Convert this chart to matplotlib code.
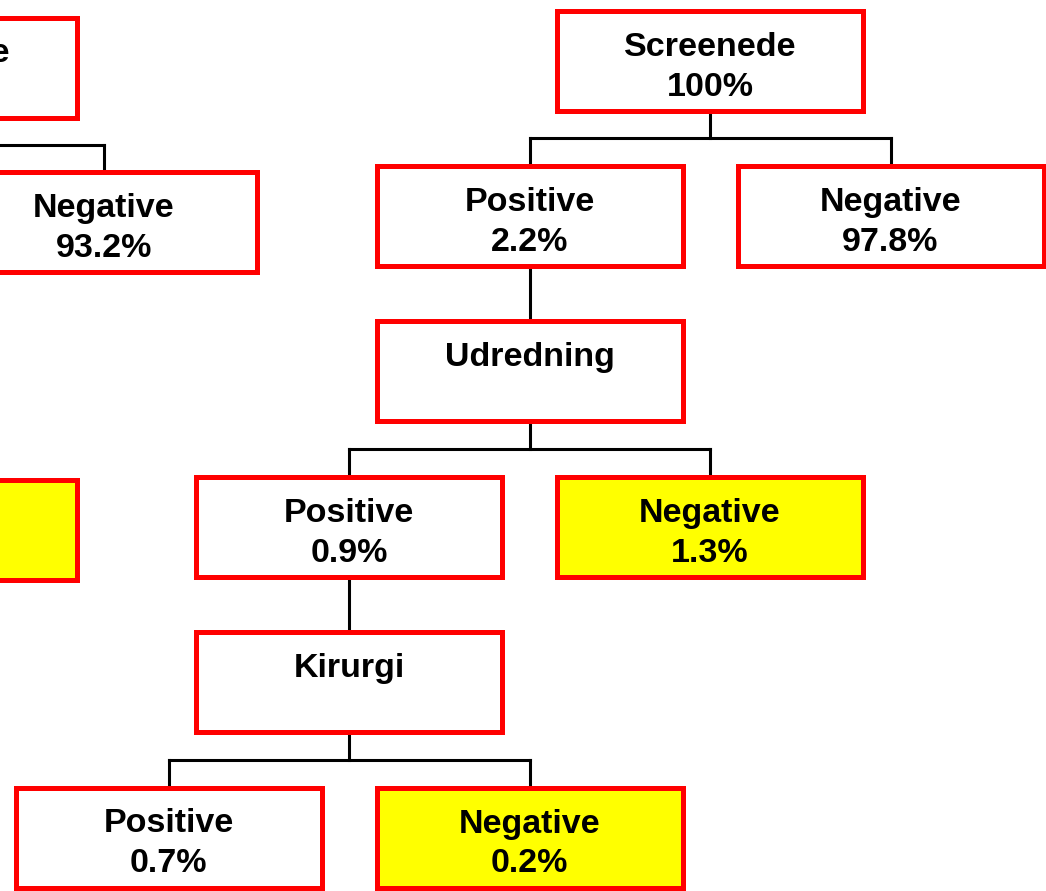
import matplotlib
matplotlib.use("Agg")
import matplotlib.pyplot as plt
from matplotlib.patches import Rectangle

# right tree (fully visible)
labels = ["Screenede", "Positive", "Negative", "Udredning", "Positive", "Negative",
          "Kirurgi", "Positive", "Negative"]
values = ["100%", "2.2%", "97.8%", "", "0.9%", "1.3%", "", "0.7%", "0.2%"]
highlight = [False, False, False, False, False, True, False, False, True]
parents = [None, 0, 0, 1, 3, 3, 4, 6, 6]

# left tree (cut off at the left edge of the picture, only the visible part)
left_labels = ["Screenede", "Negative", ""]
left_values = ["", "93.2%", ""]
left_highlight = [False, False, True]
left_parents = [None, 0, None]

# layout (pixels), grid positions of each box
grid = [(0, 3), (1, 2), (1, 4), (2, 2), (3, 1), (3, 3), (4, 1), (5, 0), (5, 2)]
left_grid = [(0, 0), (1, 1), (3, 0)]
BW, BH = 311, 105
LW_BOX = 3.6
LW_LINE = 2.2
FS = 24.5


def draw_tree(ax, labels, values, highlight, parents, grid, x0, y0, dx, dy):
    centers = [(x0 + c * dx, y0 + r * dy) for r, c in grid]
    for i, (cx, top) in enumerate(centers):
        fc = "#FFFF00" if highlight[i] else "white"
        ax.add_patch(Rectangle((cx - BW / 2 + 2.5, top + 2.5), BW - 5, BH - 5,
                               facecolor=fc, edgecolor="#FF0000", lw=LW_BOX, zorder=2))
        if labels[i]:
            ax.text(cx, top + 39, labels[i], ha="center", va="center",
                    fontsize=FS, fontweight="bold", family="Liberation Sans", zorder=3)
        if values[i]:
            ax.text(cx, top + 79, values[i], ha="center", va="center",
                    fontsize=FS, fontweight="bold", family="Liberation Sans", zorder=3)
    # connectors
    for p in set(x for x in parents if x is not None):
        kids = [i for i, q in enumerate(parents) if q == p]
        px, ptop = centers[p]
        pbot = ptop + BH
        xs = [centers[k][0] for k in kids]
        if len(kids) == 1 and xs[0] == px:
            ax.plot([px, px], [pbot, centers[kids[0]][1]], color="black", lw=LW_LINE, zorder=1)
        else:
            ymid = pbot + 25
            ax.plot([px, px], [pbot, ymid], color="black", lw=LW_LINE, zorder=1)
            ax.plot([min(xs + [px]), max(xs + [px])], [ymid, ymid], color="black",
                    lw=LW_LINE, zorder=1)
            for k in kids:
                kx, ktop = centers[k]
                ax.plot([kx, kx], [ymid, ktop + 3], color="black", lw=LW_LINE, zorder=1)


fig = plt.figure(figsize=(10.46, 8.91), dpi=100)
ax = fig.add_axes([0, 0, 1, 1])
ax.set_xlim(0, 1046)
ax.set_ylim(891, 0)
ax.axis("off")

draw_tree(ax, labels, values, highlight, parents, grid, 168.5, 8, 180.5, 155.4)
draw_tree(ax, left_labels, left_values, left_highlight, left_parents, left_grid, -76, 15, 180, 154.3)

plt.savefig("out.png", dpi=100)
